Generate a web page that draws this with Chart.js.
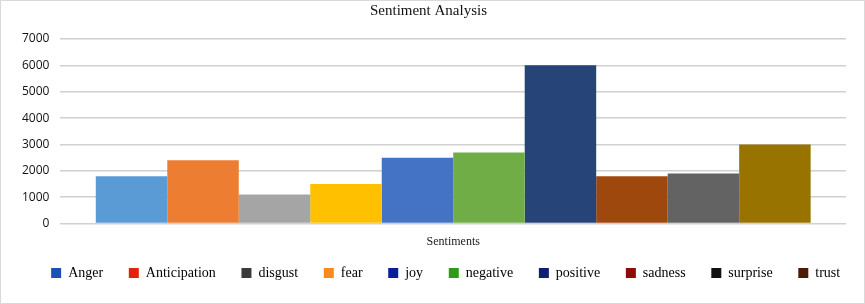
<!DOCTYPE html>
<html><head><meta charset="utf-8">
<script src="https://cdn.jsdelivr.net/npm/chart.js@4/dist/chart.umd.min.js"></script>
<style>
html,body{margin:0;padding:0;background:#fff;}
#wrap{position:relative;width:865px;height:304px;box-sizing:border-box;border:1px solid #d9d9d9;}
</style></head>
<body><div id="wrap"><canvas id="c" width="863" height="302"></canvas></div>
<script>
const sentiments = ['Anger','Anticipation','disgust','fear','joy','negative','positive','sadness','surprise','trust'];
const counts = [1800, 2400, 1100, 1500, 2500, 2700, 6000, 1800, 1900, 3000];
const yTicks = [0,1000,2000,3000,4000,5000,6000,7000];
const barColors = ['#5b9bd5','#ed7d31','#a5a5a5','#ffc000','#4472c4','#70ad47','#264478','#9e480e','#636363','#997300'];
const legendColors = ['#1d4fb8','#e5200c','#3a3a3a','#fb8a1c','#0b1e9a','#2f9a1a','#0d1f6e','#8e0b0b','#111111','#4d1a0a'];

const datasets = sentiments.map((s,i)=>({
  label: s,
  data: [counts[i]],
  backgroundColor: barColors[i],
  borderWidth: 0,
  categoryPercentage: 0.91,
  barPercentage: 1.0
}));

const legendShift = {
  id: 'legendShift',
  afterLayout(chart) {
    const lg = chart.legend;
    if (lg) { lg.left += 23; lg.right += 23; }
  }
};

new Chart(document.getElementById('c'), {
  type: 'bar',
  data: { labels: [''], datasets },
  plugins: [legendShift],
  options: {
    responsive: false,
    animation: false,
    layout: { padding: { left: 10, right: 18, top: 0, bottom: 13 } },
    plugins: {
      title: { display: true, text: 'Sentiment Analysis', color: '#111',
        font: { family: 'Liberation Serif', size: 15, weight: 'normal' }, padding: { top: 1, bottom: 19 } },
      legend: { position: 'bottom',
        labels: { boxWidth: 10, boxHeight: 10, padding: 14, color: '#222',
          font: { family: 'Liberation Serif', size: 14 },
          generateLabels: (chart) => sentiments.map((s,i)=>({
            text: s + '\u2002\u2005\u200A', fillStyle: legendColors[i], strokeStyle: legendColors[i], lineWidth: 0,
            datasetIndex: i, hidden: false
          })) } },
      tooltip: { enabled: false }
    },
    scales: {
      x: { grid: { display: false }, border: { display: false },
        ticks: { display: false },
        title: { display: true, text: 'Sentiments', color: '#222',
          font: { family: 'Liberation Serif', size: 12 }, padding: { top: 3, bottom: 3 } } },
      y: { min: 0, max: 7000,
        afterBuildTicks: (axis) => { axis.ticks = yTicks.map(v=>({value:v})); },
        grid: { color: '#d0d0d0', lineWidth: 1.5, drawTicks: false },
        border: { display: false },
        ticks: { color: '#111', font: { family: 'Open Sans', size: 12 }, padding: 11,
          callback: (v) => String(v) } }
    }
  }
});
</script></body></html>
